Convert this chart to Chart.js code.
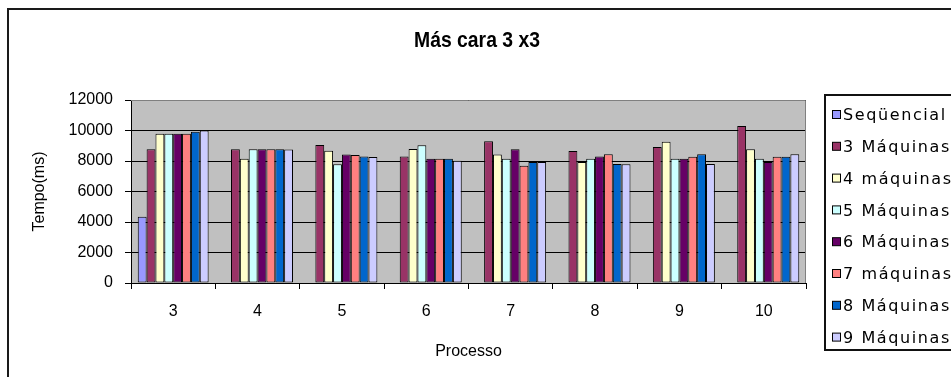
<!DOCTYPE html>
<html>
<head>
<meta charset="utf-8">
<title>Más cara 3 x3</title>
<script src="https://cdn.jsdelivr.net/npm/chart.js@4.4.1/dist/chart.umd.min.js"></script>
<style>
  html, body { margin: 0; padding: 0; background: #fff; overflow: hidden; }
  #wrap { position: relative; width: 951px; height: 377px; overflow: hidden; }
  #frame {
    position: absolute; left: 7px; top: 8px; width: 1000px; height: 420px;
    border: 2px solid #1a1a1a; box-sizing: border-box; pointer-events: none;
  }
  canvas { position: absolute; left: 0; top: 0; }
</style>
</head>
<body>
<div id="wrap">
  <canvas id="chart" width="951" height="377"></canvas>
  <div id="frame"></div>
</div>
<script>
// tempos por número de processos
const titulo = "Más cara 3 x3";
const processos = ["3", "4", "5", "6", "7", "8", "9", "10"];
const sequencial = [4350, null, null, null, null, null, null, null];
const maq3 = [8770, 8770, 9050, 8300, 9290, 8650, 8920, 10290];
const maq4 = [9790, 8150, 8680, 8790, 8420, 7930, 9270, 8770];
const maq5 = [9790, 8770, 7780, 9030, 8150, 8150, 8150, 8150];
const maq6 = [9790, 8770, 8420, 8150, 8770, 8300, 8150, 7930];
const maq7 = [9790, 8770, 8400, 8150, 7690, 8440, 8280, 8280];
const maq8 = [9920, 8770, 8300, 8150, 7930, 7800, 8440, 8280];
const maq9 = [10000, 8750, 8260, 8020, 7930, 7790, 7800, 8440];
const yTicks = [0, 2000, 4000, 6000, 8000, 10000, 12000];

const series = [
  { label: "Seqüencial", data: sequencial, color: "#9999FF" },
  { label: "3 Máquinas", data: maq3, color: "#993366" },
  { label: "4 máquinas", data: maq4, color: "#FFFFCC" },
  { label: "5 Máquinas", data: maq5, color: "#CCFFFF" },
  { label: "6 Máquinas", data: maq6, color: "#660066" },
  { label: "7 máquinas", data: maq7, color: "#FF8080" },
  { label: "8 Máquinas", data: maq8, color: "#0066CC" },
  { label: "9 Máquinas", data: maq9, color: "#CCCCFF" }
];

// fundo cinza da área de plotagem + borda cinza
const plotBg = {
  id: "plotBg",
  beforeDraw(chart) {
    const { ctx, chartArea: a } = chart;
    ctx.save();
    ctx.fillStyle = "#C0C0C0";
    ctx.fillRect(a.left, a.top, a.right - a.left, a.bottom - a.top);
    ctx.restore();
  },
  afterDatasetsDraw(chart) {
    const { ctx, chartArea: a } = chart;
    ctx.save();
    ctx.strokeStyle = "#808080";
    ctx.lineWidth = 1;
    ctx.beginPath();
    ctx.moveTo(a.left, a.top + 0.5);
    ctx.lineTo(a.right - 0.5, a.top + 0.5);
    ctx.lineTo(a.right - 0.5, a.bottom);
    ctx.stroke();
    ctx.restore();
  }
};

// título estreito, centrado no quadro todo
const narrowTitle = {
  id: "narrowTitle",
  afterDraw(chart) {
    const ctx = chart.ctx;
    ctx.save();
    ctx.translate(477, 41);
    ctx.scale(0.88, 1);
    ctx.font = "bold 22px 'Liberation Sans', sans-serif";
    ctx.fillStyle = "#000";
    ctx.textAlign = "center";
    ctx.textBaseline = "middle";
    ctx.fillText(titulo, 0, 0);
    ctx.restore();
  }
};

// legenda com caixa à direita
const boxLegend = {
  id: "boxLegend",
  afterDraw(chart) {
    const ctx = chart.ctx;
    const x0 = 825, y0 = 95, rowH = 31.8, firstY = 115;
    ctx.save();
    ctx.fillStyle = "#fff";
    ctx.fillRect(x0, y0, 200, 255);
    ctx.strokeStyle = "#111";
    ctx.lineWidth = 2;
    ctx.strokeRect(x0, y0, 200, 255);
    ctx.font = "16px 'DejaVu Sans'";
    ctx.letterSpacing = "1.6px";
    ctx.textBaseline = "middle";
    chart.data.datasets.forEach((ds, i) => {
      const y = firstY + i * rowH;
      ctx.fillStyle = ds.backgroundColor;
      ctx.fillRect(832.5, y - 4.5, 8, 8);
      ctx.strokeStyle = "#000";
      ctx.lineWidth = 1;
      ctx.strokeRect(832.5, y - 4.5, 8, 8);
      ctx.fillStyle = "#000";
      ctx.fillText(ds.label, 843, y + 1);
    });
    ctx.restore();
  }
};

const axisFont = { family: "'Liberation Sans', sans-serif", size: 16 };

new Chart(document.getElementById("chart"), {
  type: "bar",
  data: {
    labels: processos,
    datasets: series.map((s) => ({
      label: s.label,
      data: s.data,
      backgroundColor: s.color,
      borderColor: "#000",
      borderWidth: 1,
      borderSkipped: false,
      categoryPercentage: 0.84,
      barPercentage: 1.0
    }))
  },
  options: {
    responsive: false,
    animation: false,
    layout: { padding: { left: 8, right: 145, top: 100, bottom: 0 } },
    plugins: {
      legend: { display: false },
      tooltip: { enabled: false },
      title: { display: false }
    },
    scales: {
      x: {
        afterFit: (scale) => { scale.height = 94; },
        grid: { display: true, drawOnChartArea: false, drawTicks: true, tickLength: 6, tickColor: "#000", offset: true },
        border: { color: "#000", width: 1 },
        ticks: { color: "#000", padding: 13, font: axisFont },
        title: {
          display: true, text: "Processo", color: "#000",
          font: axisFont,
          padding: { top: 0, bottom: 16 }
        }
      },
      y: {
        min: 0,
        max: 12000,
        afterFit: (scale) => { scale.width = 123; },
        afterBuildTicks: (scale) => { scale.ticks = yTicks.map((v) => ({ value: v })); },
        grid: { color: "#000", lineWidth: 1, drawTicks: true, tickLength: 6, tickColor: "#000" },
        border: { color: "#000", width: 1 },
        ticks: {
          color: "#000", padding: 12,
          font: axisFont,
          callback: (v) => String(v)
        },
        title: {
          display: true, text: "Tempo(ms)", color: "#000",
          font: axisFont,
          padding: { top: 22, bottom: 0 }
        }
      }
    }
  },
  plugins: [plotBg, narrowTitle, boxLegend]
});
</script>
</body>
</html>
